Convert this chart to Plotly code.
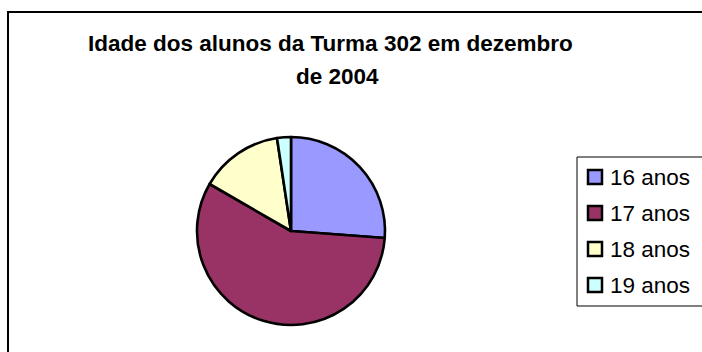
import plotly.graph_objects as go

# Idades e número de alunos em cada faixa
categorias = ["16 anos", "17 anos", "18 anos", "19 anos"]
alunos = [11, 24, 6, 1]
cores = ["#9999FF", "#993366", "#FFFFCC", "#CCFFFF"]
titulo_linhas = ["Idade dos alunos da Turma 302 em dezembro", "de 2004"]

W, H = 702, 352
FONT = "Arial, Liberation Sans, sans-serif"


def px(x):
    return x / W


def py(y):
    return 1 - y / H


# Pie geometry (pixels)
cx, cy, r = 291, 231, 94

fig = go.Figure(
    go.Pie(
        labels=categorias,
        values=alunos,
        sort=False,
        direction="clockwise",
        rotation=0,
        marker=dict(colors=cores, line=dict(color="black", width=2.6)),
        textinfo="none",
        hoverinfo="label+value+percent",
        showlegend=False,
        domain=dict(x=[px(cx - r), px(cx + r)], y=[py(cy + r), py(cy - r)]),
    )
)

shapes = [
    # chart frame
    dict(type="rect", xref="paper", yref="paper",
         x0=px(8), x1=px(W + 20), y0=py(H + 20), y1=py(12),
         line=dict(color="black", width=2), fillcolor="rgba(0,0,0,0)", layer="below"),
    # legend box
    dict(type="rect", xref="paper", yref="paper",
         x0=px(577), x1=px(W + 20), y0=py(306), y1=py(157),
         line=dict(color="black", width=1), fillcolor="white", layer="below"),
]

# title, one annotation per line
annotations = []
for texto, xc, yc in zip(titulo_linhas, [330, 337.5], [43, 76]):
    annotations.append(dict(text="<b>" + texto + "</b>", xref="paper", yref="paper",
                            x=px(xc), y=py(yc), xanchor="center", yanchor="middle",
                            showarrow=False,
                            font=dict(family=FONT, size=22.5, color="black")))

# legend rows
row0, step = 177, 36
for i, (lab, col) in enumerate(zip(categorias, cores)):
    yc = row0 + i * step
    shapes.append(dict(type="rect", xref="paper", yref="paper",
                       x0=px(588), x1=px(602), y0=py(yc + 7), y1=py(yc - 7),
                       line=dict(color="black", width=2.5), fillcolor=col))
    annotations.append(dict(text=lab, xref="paper", yref="paper",
                            x=px(608), y=py(yc), xanchor="left", yanchor="middle",
                            showarrow=False,
                            font=dict(family=FONT, size=22.5, color="black")))

fig.update_layout(
    width=W, height=H,
    margin=dict(l=0, r=0, t=0, b=0),
    paper_bgcolor="white",
    plot_bgcolor="white",
    shapes=shapes,
    annotations=annotations,
)

fig.write_html("out.html")
